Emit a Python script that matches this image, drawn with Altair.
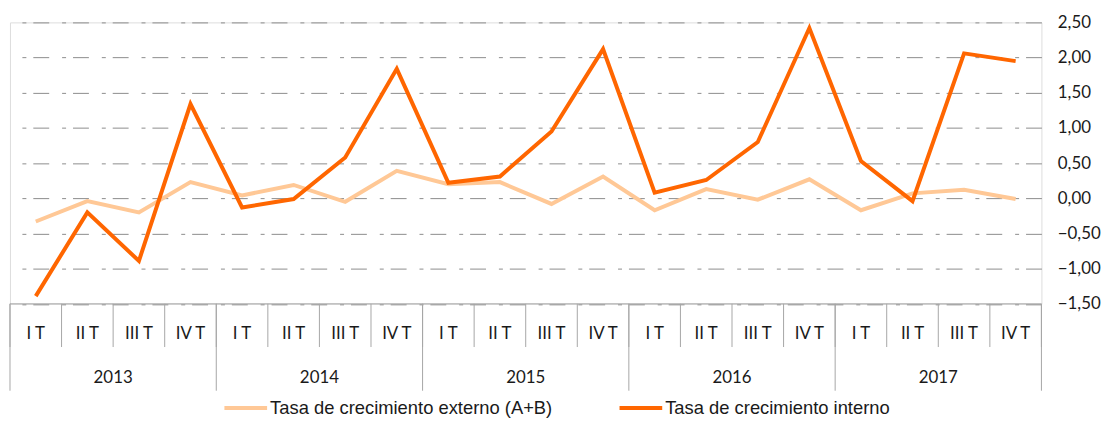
import altair as alt
import pandas as pd

quarters = ["I T", "II T", "III T", "IV T"]
years = ["2013", "2014", "2015", "2016", "2017"]
externo = [-0.33, -0.04, -0.20, 0.23, 0.04, 0.19, -0.05, 0.39, 0.20, 0.23,
           -0.08, 0.31, -0.17, 0.13, -0.02, 0.27, -0.17, 0.07, 0.12, -0.01]
interno = [-1.39, -0.20, -0.89, 1.34, -0.13, -0.01, 0.58, 1.84, 0.22, 0.31,
           0.95, 2.12, 0.08, 0.26, 0.80, 2.42, 0.53, -0.04, 2.06, 1.95]
series = ["Tasa de crecimiento externo (A+B)", "Tasa de crecimiento interno"]
colors = ["#FFC896", "#FF6600"]
y_ticks = [-1.5, -1.0, -0.5, 0.0, 0.5, 1.0, 1.5, 2.0, 2.5]

n = len(externo)
rows = []
for i in range(n):
    rows.append({"idx": i, "serie": series[0], "valor": externo[i]})
for i in range(n):
    rows.append({"idx": i, "serie": series[1], "valor": interno[i]})
df = pd.DataFrame(rows)

q_df = pd.DataFrame({"idx": list(range(n)),
                     "q": [quarters[i % 4] for i in range(n)]})
y_df = pd.DataFrame({"idx": [i * 4 + 1.5 for i in range(len(years))],
                     "year": years})
div_df = pd.DataFrame({"pos": [i - 0.5 for i in range(n + 1)]})
ydiv_df = pd.DataFrame({"pos": [i * 4 - 0.5 for i in range(len(years) + 1)]})
axis_df = pd.DataFrame({"a": [-0.5], "b": [n - 0.5]})

W = 1039
H = 283.5
xscale = alt.Scale(domain=[-0.5, n - 0.5], nice=False, zero=False)
yscale = alt.Scale(domain=[-1.5, 2.5], nice=False, zero=False)
grid_col = "#8c8c8c"
frame_col = "#a6a6a6"
lab_font = "Lato"
lab_size = 17

lines = alt.Chart(df).mark_line(strokeWidth=4, strokeJoin="miter").encode(
    x=alt.X("idx:Q", scale=xscale, axis=None),
    y=alt.Y("valor:Q", scale=yscale, axis=alt.Axis(
        orient="right", values=y_ticks, grid=True, gridDash=[16, 7, 4, 13],
        gridColor=grid_col, gridWidth=1, domain=False, ticks=False,
        labelPadding=16, labelFont=lab_font, labelFontSize=lab_size,
        labelColor="#1a1a1a", title=None,
        labelExpr="replace(format(datum.value, '.2f'), '.', ',')")),
    color=alt.Color("serie:N", scale=alt.Scale(domain=series, range=colors),
                    legend=alt.Legend(
                        orient="none", legendX=214, legendY=365,
                        direction="horizontal", symbolType="stroke",
                        symbolSize=1849, symbolStrokeWidth=4,
                        labelFont="Liberation Sans", labelFontSize=18.5,
                        labelColor="#1a1a1a", labelOffset=1,
                        columnPadding=59, padding=0, title=None,
                        labelLimit=0)),
)

axis_line = alt.Chart(axis_df).mark_rule(color=frame_col, strokeWidth=1).encode(
    x=alt.X("a:Q", scale=xscale, axis=None),
    x2="b:Q",
    y=alt.value(H),
)

q_div = alt.Chart(div_df).mark_rule(color=frame_col, strokeWidth=1).encode(
    x=alt.X("pos:Q", scale=xscale, axis=None),
    y=alt.value(H),
    y2=alt.value(327),
)

y_div = alt.Chart(ydiv_df).mark_rule(color=frame_col, strokeWidth=1).encode(
    x=alt.X("pos:Q", scale=xscale, axis=None),
    y=alt.value(H),
    y2=alt.value(371),
)

q_text = alt.Chart(q_df).mark_text(
    font=lab_font, fontSize=lab_size, color="#1a1a1a", baseline="middle",
    align="center"
).encode(
    x=alt.X("idx:Q", scale=xscale, axis=None),
    y=alt.value(314),
    text="q:N",
)

y_text = alt.Chart(y_df).mark_text(
    font=lab_font, fontSize=lab_size, color="#1a1a1a", baseline="middle",
    align="center"
).encode(
    x=alt.X("idx:Q", scale=xscale, axis=None),
    y=alt.value(358),
    text="year:N",
)

chart = alt.layer(lines, axis_line, q_div, y_div, q_text, y_text).properties(
    width=W, height=H,
    autosize=alt.AutoSizeParams(type="none"),
    padding={"left": 2, "top": 13, "right": 60, "bottom": 115},
).configure_view(stroke=None).configure(background="white")

chart.save("out.html", embed_options={"renderer": "svg", "actions": False})
